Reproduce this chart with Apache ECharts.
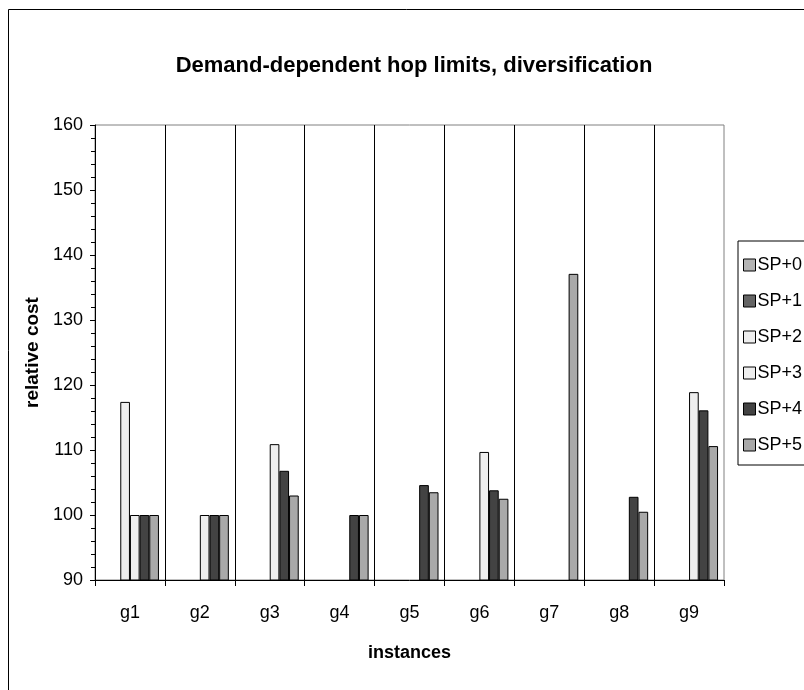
<!DOCTYPE html>
<html>
<head>
<meta charset="utf-8">
<script src="https://cdn.jsdelivr.net/npm/echarts@6/dist/echarts.min.js"></script>
<style>
html,body{margin:0;padding:0;background:#fff;}
#c{width:804px;height:690px;}
</style>
</head>
<body>
<div id="c"></div>
<script>
var categories = ['g1','g2','g3','g4','g5','g6','g7','g8','g9'];
var seriesNames = ['SP+0','SP+1','SP+2','SP+3','SP+4','SP+5'];
var sp0 = [null,null,null,null,null,null,null,null,null];
var sp1 = [null,null,null,null,null,null,null,null,null];
var sp2 = [117.4,null,null,null,null,null,null,null,null];
var sp3 = [100,100,110.9,null,null,109.7,null,null,118.9];
var sp4 = [100,100,106.8,100,104.6,103.8,null,102.8,116.1];
var sp5 = [100,100,103.0,100,103.5,102.5,137.1,100.5,110.6];
var yTicks = [90,100,110,120,130,140,150,160];

var colors = ['#b4b4b4','#646464','#eeeeee','#eeeeee','#434343','#a9a9a9'];
var values = [sp0,sp1,sp2,sp3,sp4,sp5];
var FONT = '"Liberation Sans",Arial,sans-serif';

var chart = echarts.init(document.getElementById('c'), null, {renderer:'canvas'});
var series = seriesNames.map(function(n,i){
  return {
    name:n, type:'bar', data:values[i],
    barGap:'0%', barCategoryGap:'17%',
    itemStyle:{color:colors[i], borderColor:'#000', borderWidth:1},
    emphasis:{disabled:true}, animation:false
  };
});
chart.setOption({
  animation:false,
  color:colors,
  graphic:[{type:'rect', left:6, top:7, shape:{width:900, height:900}, style:{fill:null, stroke:'#000', lineWidth:1}, silent:true, z:-1}],
  title:{text:'Demand-dependent hop limits, diversification', left:409, textAlign:'center', top:50,
    textStyle:{fontFamily:FONT, fontSize:22, fontWeight:'bold', color:'#000'}},
  grid:{left:95, top:125, right:80, bottom:110, show:true, borderColor:'#808080', borderWidth:1, backgroundColor:'transparent'},
  legend:{orient:'vertical', left:738, top:241, data:seriesNames, icon:'rect', itemWidth:12, itemHeight:12, itemGap:18,
    padding:[15,40,11,5], borderColor:'#000', borderWidth:1, backgroundColor:'#fff',
    itemStyle:{borderColor:'#000', borderWidth:1},
    textStyle:{fontFamily:FONT, fontSize:18, color:'#000', padding:[0,0,0,-3]}},
  xAxis:{type:'category', data:categories,
    name:'instances', nameLocation:'middle', nameGap:64,
    nameTextStyle:{fontFamily:FONT, fontSize:18, fontWeight:'bold', color:'#000'},
    axisLine:{lineStyle:{color:'#000', width:1}},
    axisTick:{show:true, alignWithLabel:false, length:6, lineStyle:{color:'#000'}},
    axisLabel:{fontFamily:FONT, fontSize:18, color:'#000', margin:24},
    splitLine:{show:true, showMinLine:false, showMaxLine:false, lineStyle:{color:'#000', width:1}}},
  yAxis:{type:'value', min:yTicks[0], max:yTicks[yTicks.length-1], interval:10,
    name:'relative cost', nameLocation:'middle', nameGap:42, nameRotate:90,
    nameTextStyle:{fontFamily:FONT, fontSize:19, fontWeight:'bold', color:'#000'},
    axisLine:{show:true, lineStyle:{color:'#000', width:1}},
    axisTick:{show:true, inside:false, length:5, lineStyle:{color:'#000'}},
    minorTick:{show:true, splitNumber:5, length:4, lineStyle:{color:'#000'}},
    axisLabel:{fontFamily:FONT, fontSize:18, color:'#000', margin:12},
    splitLine:{show:false}},
  series:series
});
</script>
</body>
</html>
